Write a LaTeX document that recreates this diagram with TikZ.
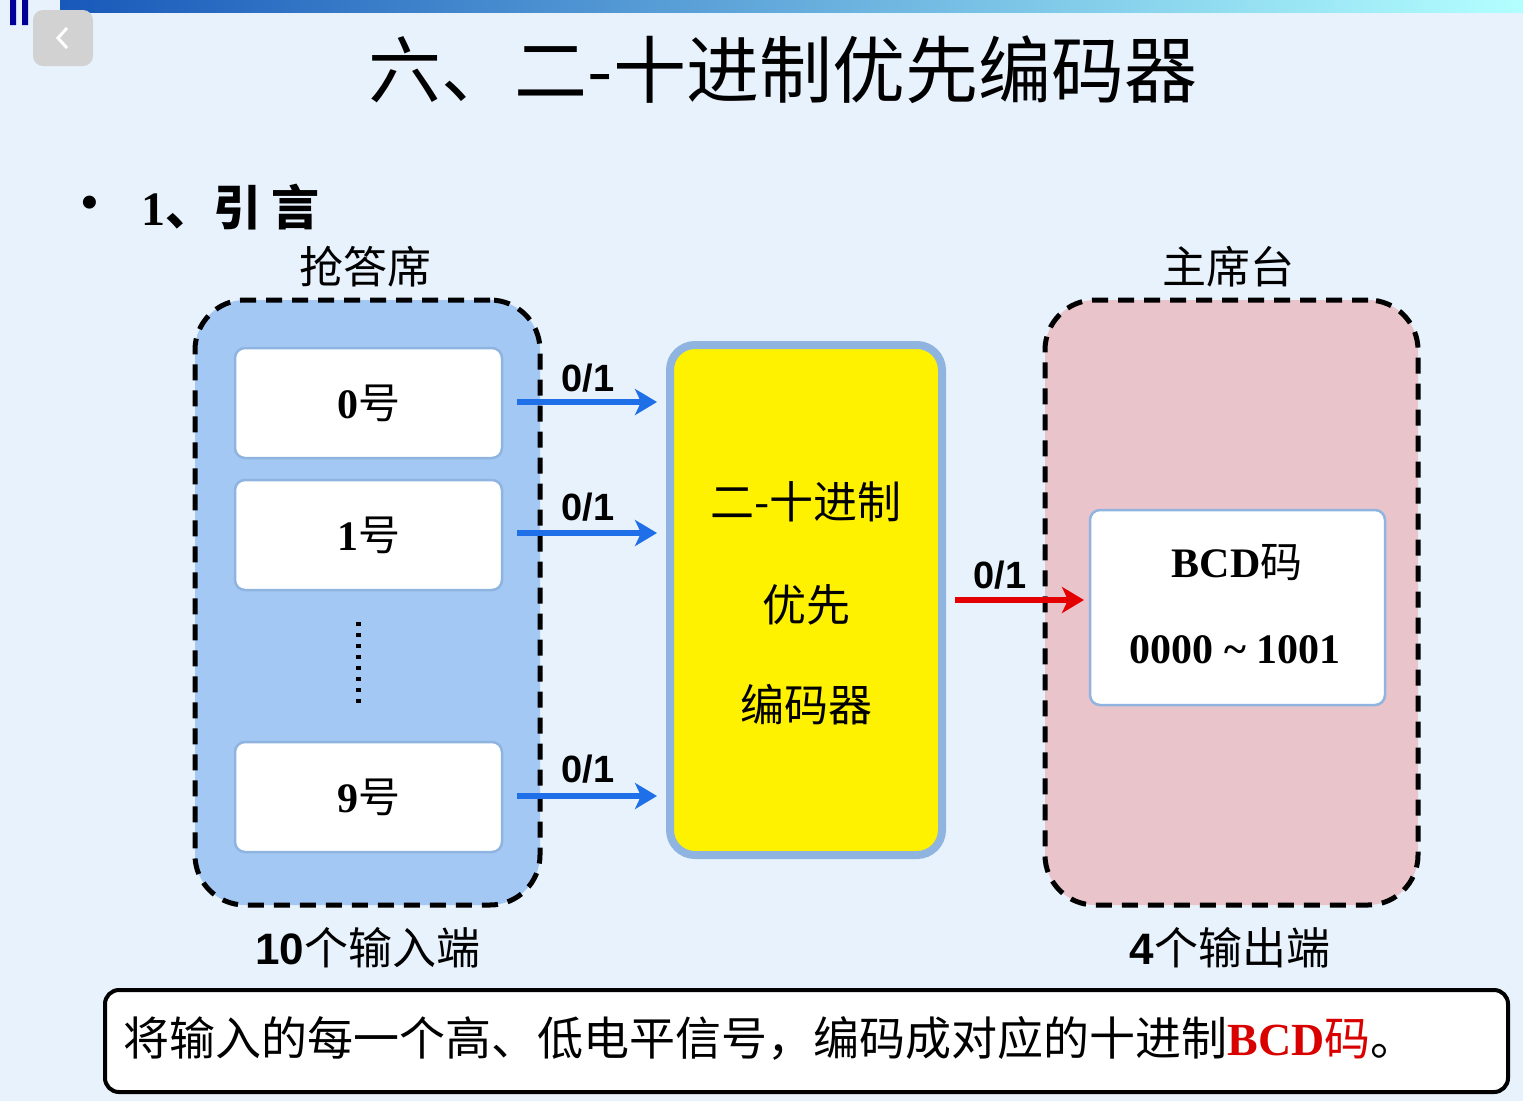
\documentclass[tikz,border=0pt]{standalone}
\usepackage{fontspec}
\setmainfont{Liberation Serif}
\newfontfamily\cjk{Noto Sans CJK SC}
\newfontfamily\lsans{Liberation Sans}
\usetikzlibrary{arrows.meta}
\definecolor{bgc}{HTML}{E8F2FC}
\definecolor{lblue}{HTML}{A4C8F4}
\definecolor{lpink}{HTML}{EAC4CB}
\definecolor{abl}{HTML}{1E6FE8}
\definecolor{edgeb}{HTML}{8FB4E0}
\tikzset{
 grp/.style={draw=black,line width=5pt,dash pattern=on 16pt off 10pt,rounded corners=50pt},
 seat/.style={draw=edgeb,line width=2.5pt,fill=white,rounded corners=10pt},
 arr/.style={line width=6pt,-{Stealth[length=22pt,width=26pt,inset=6pt]}},
 lab/.style={font=\lsans\bfseries\fontsize{38}{40}\selectfont},
 ck/.style={font=\cjk\fontsize{44}{48}\selectfont},
}
\begin{document}
\begin{tikzpicture}[x=1pt,y=-1pt]
\useasboundingbox (0,0) rectangle (1523,1101);
\fill[bgc] (0,0) rectangle (1523,1101);
\shade[left color=abl!80!black,right color=cyan!30] (60,0) rectangle (1523,12);
\fill[blue!60!black] (10,0) rectangle (16,25) (22,0) rectangle (28,25);
\fill[gray!35,rounded corners=10pt] (33,10) rectangle (93,66);
\draw[white,line width=3pt] (67,28) -- (58,38) -- (67,48);
\node[font=\cjk\fontsize{73}{76}\selectfont] (title) at (783,70) {六、二-十进制优先编码器};
\node[font=\bfseries\fontsize{48}{50}\selectfont] (bul) at (90,207) {\textbullet};
\node[anchor=west,font=\cjk\bfseries\fontsize{48}{50}\selectfont] (intro) at (138,207) {{\bfseries\fontspec{Liberation Serif}1}、引\hspace{10pt}言};
\node[ck] (t1) at (365,267) {抢答席};
\node[ck] (t2) at (1228,267) {主席台};
\node[grp,fill=lblue,minimum width=345pt,minimum height=605pt] (L) at (367.5,602.5) {};
\node[grp,fill=lpink,minimum width=373pt,minimum height=605pt] (R) at (1231.5,602.5) {};
\node[seat,minimum width=267pt,minimum height=110pt] (s0) at (368.5,403) {\bfseries\fontsize{42}{44}\selectfont 0{\mdseries\cjk 号}};
\node[seat,minimum width=267pt,minimum height=110pt] (s1) at (368.5,535) {\bfseries\fontsize{42}{44}\selectfont 1{\mdseries\cjk 号}};
\node[seat,minimum width=267pt,minimum height=110pt] (s9) at (368.5,797) {\bfseries\fontsize{42}{44}\selectfont 9{\mdseries\cjk 号}};
\draw[line width=5pt,dash pattern=on 4pt off 7pt] (358,622) -- (358,706);
\node[draw=edgeb,line width=8pt,fill=yellow,rounded corners=25pt,minimum width=272pt,minimum height=510pt] (E) at (806,600) {};
\node[ck] at (806,502) {二-十进制};
\node[ck] at (806,605) {优先};
\node[ck] at (806,705) {编码器};
\coordinate (a0) at (517,402); \coordinate (b0) at (657,402);
\coordinate (a1) at (517,533); \coordinate (b1) at (657,533);
\coordinate (a9) at (517,796); \coordinate (b9) at (657,796);
\draw[arr,abl] (a0) -- (b0);
\draw[arr,abl] (a1) -- (b1);
\draw[arr,abl] (a9) -- (b9);
\node[lab] at (588,378) {0/1};
\node[lab] at (588,507) {0/1};
\node[lab] at (588,769) {0/1};
\coordinate (ra) at (955,600); \coordinate (rb) at (1084,600);
\draw[arr,red!90!black] (ra) -- (rb);
\node[lab] at (1000,575) {0/1};
\node[seat,minimum width=295pt,minimum height=195pt] (bcd) at (1237.5,607.5) {};
\node[font=\bfseries\fontsize{42}{46}\selectfont] at (1237,563) {BCD{\mdseries\cjk 码}};
\node[font=\bfseries\fontsize{42}{46}\selectfont] at (1235,650) {0000 \textasciitilde\ 1001};
\node[font=\cjk\fontsize{44}{48}\selectfont] at (368,948) {{\lsans\bfseries 10}个输入端};
\node[font=\cjk\fontsize{44}{48}\selectfont] at (1230,948) {{\lsans\bfseries 4}个输出端};
\node[draw=black,line width=4pt,fill=white,rounded corners=14pt,minimum width=1403pt,minimum height=102pt] (bot) at (806.5,1041) {};
\node[anchor=west,font=\cjk\fontsize{46}{48}\selectfont] at (120,1038) {将输入的每一个高、低电平信号，编码成对应的十进制{\color{red!85!black}\bfseries\fontspec{Liberation Serif}BCD}{\color{red!85!black}码}。};
\end{tikzpicture}
\end{document}
